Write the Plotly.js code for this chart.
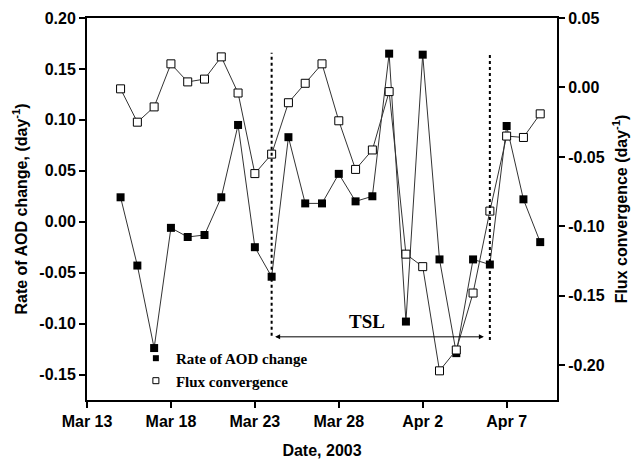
<!DOCTYPE html>
<html>
<head>
<meta charset="utf-8">
<script src="https://cdn.plot.ly/plotly-3.0.1.min.js"></script>
<style>html,body{margin:0;padding:0;background:#fff;}#chart{width:640px;height:462px;}</style>
</head>
<body>
<div id="chart"></div>
<script>
// ---- data ----
const dates = ['2003-03-15','2003-03-16','2003-03-17','2003-03-18','2003-03-19','2003-03-20','2003-03-21','2003-03-22','2003-03-23','2003-03-24','2003-03-25','2003-03-26','2003-03-27','2003-03-28','2003-03-29','2003-03-30','2003-03-31','2003-04-01','2003-04-02','2003-04-03','2003-04-04','2003-04-05','2003-04-06','2003-04-07','2003-04-08','2003-04-09'];
const aodRate = [0.024,-0.043,-0.124,-0.006,-0.015,-0.013,0.024,0.095,-0.025,-0.054,0.083,0.018,0.018,0.047,0.020,0.025,0.165,-0.098,0.164,-0.037,-0.129,-0.037,-0.042,0.094,0.022,-0.020];
const fluxConv = [-0.001,-0.025,-0.014,0.017,0.004,0.006,0.022,-0.004,-0.062,-0.048,-0.011,0.003,0.017,-0.024,-0.059,-0.045,-0.003,-0.120,-0.129,-0.204,-0.189,-0.148,-0.089,-0.035,-0.036,-0.019];
const xTickVals = ['2003-03-13','2003-03-18','2003-03-23','2003-03-28','2003-04-02','2003-04-07'];
const xTickText = ['Mar 13','Mar 18','Mar 23','Mar 28','Apr 2','Apr 7'];
const yTickVals = [-0.15,-0.10,-0.05,0.00,0.05,0.10,0.15,0.20];
const yTickText = ['-0.15','-0.10','-0.05','0.00','0.05','0.10','0.15','0.20'];
const y2TickVals = [-0.20,-0.15,-0.10,-0.05,0.00,0.05];
const y2TickText = ['-0.20','-0.15','-0.10','-0.05','0.00','0.05'];
const seriesNames = ['Rate of AOD change','Flux convergence'];
const tslStart = '2003-03-24', tslEnd = '2003-04-06';
const tslLabel = 'TSL';

const tickFont = {family:'Liberation Sans, Arial, sans-serif', size:16, color:'#000', weight:'bold'};
const titleFont = {family:'Liberation Sans, Arial, sans-serif', size:16, color:'#000', weight:'bold'};

const traces = [
  {x:dates, y:fluxConv, yaxis:'y2', mode:'lines+markers', showlegend:false,
   line:{color:'#333', width:1},
   marker:{symbol:'square', size:8, color:'#fff', line:{color:'#000', width:1}}},
  {x:dates, y:aodRate, yaxis:'y', mode:'lines+markers', showlegend:false,
   line:{color:'#333', width:1},
   marker:{symbol:'square', size:8, color:'#000', line:{color:'#000', width:0}}},
  {x:[null], y:[null], name:seriesNames[0], mode:'markers',
   marker:{symbol:'square', size:6, color:'#000'}},
  {x:[null], y:[null], name:seriesNames[1], mode:'markers',
   marker:{symbol:'square', size:6, color:'#fff', line:{color:'#000', width:1}}}
];

const layout = {
  width:640, height:462,
  margin:{l:87, r:83, t:18, b:62},
  paper_bgcolor:'#fff', plot_bgcolor:'#fff',
  showlegend:true,
  legend:{x:0.104, y:0.152, xanchor:'left', yanchor:'top', bgcolor:'rgba(0,0,0,0)',
    font:{family:'Liberation Serif, Times New Roman, serif', size:15, color:'#000', weight:'bold'},
    tracegroupgap:0, itemwidth:30},
  xaxis:{type:'date', range:['2003-03-13','2003-04-10'],
    tickvals:xTickVals, ticktext:xTickText, tickfont:tickFont,
    ticks:'outside', ticklen:6, tickwidth:2, tickcolor:'#000',
    showline:true, linecolor:'#000', linewidth:2, mirror:true,
    showgrid:false, zeroline:false,
    title:{text:'Date, 2003', font:titleFont, standoff:16}},
  yaxis:{range:[-0.175,0.2], tickvals:yTickVals, ticktext:yTickText, tickfont:tickFont,
    ticks:'outside', ticklen:6, tickwidth:2, tickcolor:'#000',
    showline:true, linecolor:'#000', linewidth:2,
    showgrid:false, zeroline:false,
    title:{text:'Rate of AOD change, (day<sup>-1</sup>)', font:titleFont, standoff:8}},
  yaxis2:{range:[-0.225,0.05], overlaying:'y', side:'right',
    tickvals:y2TickVals, ticktext:y2TickText, tickfont:tickFont,
    ticks:'outside', ticklen:6, tickwidth:2, tickcolor:'#000',
    showline:true, linecolor:'#000', linewidth:2,
    showgrid:false, zeroline:false,
    title:{text:'Flux convergence (day<sup>-1</sup>)', font:titleFont, standoff:12}},
  shapes:[
    {type:'line', xref:'x', yref:'y', x0:tslStart, x1:tslStart, y0:-0.112, y1:0.166,
     line:{color:'#000', width:2, dash:'dot'}},
    {type:'line', xref:'x', yref:'y', x0:tslEnd, x1:tslEnd, y0:-0.116, y1:0.164,
     line:{color:'#000', width:2, dash:'dot'}}
  ],
  annotations:[
    {x:tslEnd, y:-0.113, ax:tslStart, ay:-0.113, xref:'x', yref:'y', axref:'x', ayref:'y',
     text:'', showarrow:true, arrowside:'end+start', arrowhead:2, arrowsize:1, arrowwidth:1,
     arrowcolor:'#000', standoff:6, startstandoff:2},
    {x:'2003-03-29 16:00', y:-0.098, xref:'x', yref:'y', text:tslLabel, showarrow:false,
     font:{family:'Liberation Serif, Times New Roman, serif', size:19, color:'#000', weight:'bold'}}
  ]
};

Plotly.newPlot('chart', traces, layout, {displayModeBar:false, staticPlot:true});
</script>
</body>
</html>
